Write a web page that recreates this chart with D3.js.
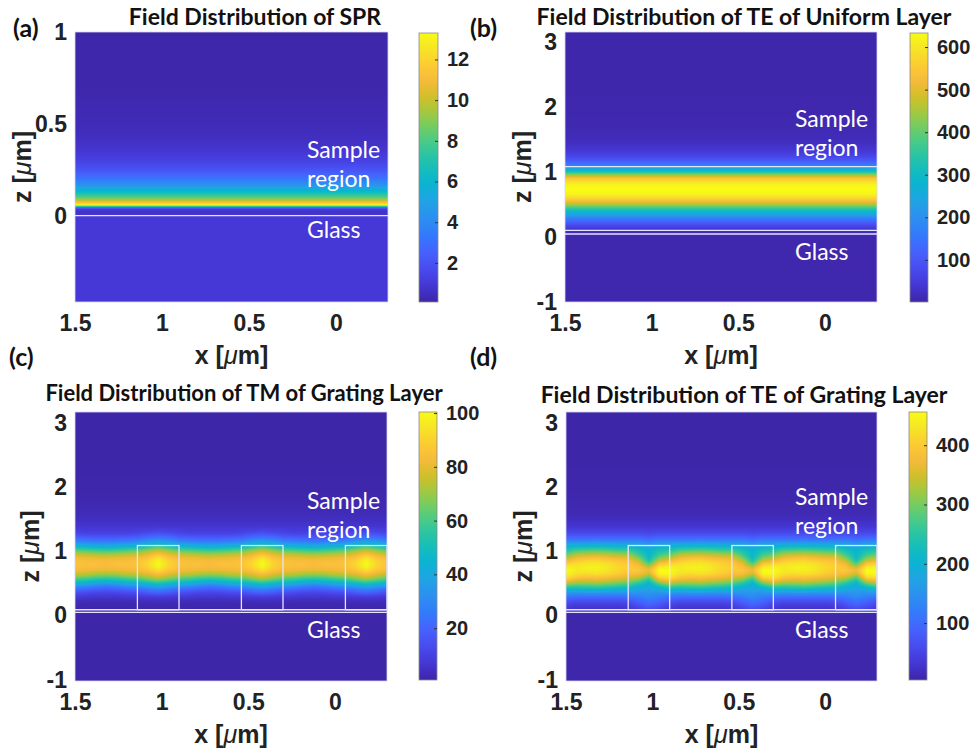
<!DOCTYPE html>
<html>
<head>
<meta charset="utf-8">
<script src="https://cdn.jsdelivr.net/npm/d3@7"></script>
<style>
  body { margin: 0; background: #fff; }
  svg { display: block; }
  .tick text { font-family: "Liberation Sans", Arial, sans-serif; font-weight: bold; fill: #222; }
  .titel { font-family: Lato, "Open Sans", sans-serif; font-weight: bold; fill: #111; }
  .oznaka { font-family: Lato, "Open Sans", sans-serif; font-weight: bold; fill: #111; }
  .os { font-family: "Liberation Sans", Arial, sans-serif; font-weight: bold; fill: #222; }
  .regija { font-family: Lato, "Open Sans", sans-serif; fill: #fff; }
</style>
</head>
<body>
<div id="okvir"></div>
<script>
// ---------- podaci (ocitano sa slike) ----------

// parula (MATLAB) - kljucne boje
const parulaRows = [1, 5, 9, 13, 17, 21, 25, 29, 33, 37, 41, 45, 49, 53, 57, 61, 64]
const parulaStops = ["#3e26a8", "#4537d5", "#484df0", "#4563fd", "#327cfc", "#2b91ef", "#20a5e3", "#08b5d0",
  "#19bfb6", "#37c897", "#64cd6f", "#9dc943", "#d1bf27", "#f8ba3d", "#fccf30", "#f5e924", "#f9fb15"]

const xTicks = [1.5, 1, 0.5, 0]

// (a) SPR - jednolik sloj, profil po z
const sprZ = [-0.47, 0, 0.01, 0.025, 0.035, 0.045, 0.052, 0.058, 0.065, 0.08, 0.1, 0.13, 0.16, 0.2, 0.25, 0.3, 0.35, 0.4, 0.5, 0.7, 1]
const sprI = [0.95, 0.95, 0.7, 0.7, 1.1, 3, 9, 13.3, 12.2, 10.2, 8.2, 6.3, 4.7, 3.2, 2.0, 1.3, 0.9, 0.6, 0.35, 0.15, 0.1]
const sprZTicks = [0, 0.5, 1]
const sprCTicks = [2, 4, 6, 8, 10, 12]

// (b) TE, jednolik sloj
const teUniZ = [-1, -0.5, 0, 0.05, 0.1, 0.15, 0.2, 0.25, 0.3, 0.35, 0.4, 0.45, 0.5, 0.55, 0.6, 0.65, 0.7, 0.75,
  0.8, 0.85, 0.9, 0.95, 1.0, 1.05, 1.1, 1.15, 1.2, 1.3, 1.4, 1.5, 1.7, 2.0, 3.15]
const teUniI = [5, 5, 6, 12, 30, 55, 90, 135, 185, 240, 300, 375, 455, 525, 580, 615, 630, 633,
  620, 590, 545, 445, 330, 250, 175, 120, 85, 48, 28, 17, 9, 5, 3]
const zTicks = [-1, 0, 1, 2, 3]
const teUniCTicks = [100, 200, 300, 400, 500, 600]

// resetka: sredista stupica, poluširina, donji/gornji rub (um)
const gratingCenters = [1.02, 0.42, -0.18]
const gratingHalf = 0.12
const gratingZ = [0.10, 0.15, 0.20, 0.25, 0.30, 0.35, 0.40, 0.45, 0.50, 0.55, 0.60, 0.65, 0.70,
  0.75, 0.80, 0.85, 0.90, 0.95, 1.00, 1.05, 1.10, 1.15, 1.20, 1.25, 1.30]

// (c) TM resetka - stupci po udaljenosti od sredista stupica (simetricno)
const tmDx = [0, 0.06, 0.12, 0.18, 0.24, 0.30]
const tmCols = [
  [1, 1.5, 3, 5, 10, 18, 27, 38, 52, 66, 77, 85, 92, 98, 100, 99, 94, 86, 78, 66, 52, 38, 27, 18, 12],
  [1, 1.5, 2.5, 5, 9, 16, 24, 35, 48, 61, 72, 80, 86, 90, 91, 90, 86, 80, 72, 60, 47, 35, 25, 17, 11],
  [1, 1.5, 2.5, 4.5, 8, 13, 20, 31, 44, 56, 67, 76, 82, 85, 86, 85, 82, 75, 66, 54, 41, 30, 21, 14, 10],
  [1, 1.5, 2.5, 4.5, 8, 12, 19, 29, 42, 54, 65, 75, 81, 84, 85, 84, 81, 74, 64, 52, 39, 28, 20, 13, 9],
  [1, 1.5, 2, 4, 7, 11, 17, 26, 38, 51, 62, 72, 80, 84, 85, 84, 80, 72, 62, 50, 38, 27, 19, 13, 9],
  [1, 1.5, 2, 4, 7, 10, 16, 24, 36, 49, 61, 71, 79, 83, 84, 83, 79, 71, 61, 49, 37, 26, 19, 13, 9],
]
const tmLowZ = [-1.02, 0, 0.05], tmLowI = [0.8, 0.8, 1]
const tmHighZ = [1.4, 1.5, 1.6, 1.8, 2.0, 2.5, 3.17], tmHighI = [6, 4, 2.8, 1.6, 1, 0.7, 0.5]
const tmCTicks = [20, 40, 60, 80, 100]

// (d) TE resetka - stupci po pomaku od sredista stupica (x - sredina)
const teDx = [-0.30, -0.24, -0.18, -0.12, -0.06, 0, 0.06, 0.12, 0.18, 0.24, 0.30]
const teBetween = [25, 35, 50, 75, 110, 155, 210, 265, 315, 360, 395, 425, 440, 445, 435, 415, 385, 345, 295, 245, 195, 145, 100, 70, 50]
const teCols = [
  teBetween,
  [25, 35, 50, 75, 110, 155, 205, 260, 310, 355, 390, 420, 437, 442, 432, 412, 380, 340, 292, 242, 192, 142, 100, 70, 50],
  [25, 35, 50, 75, 110, 150, 200, 255, 310, 360, 400, 425, 435, 435, 425, 400, 370, 330, 285, 240, 190, 140, 100, 70, 50],
  [35, 45, 60, 85, 115, 155, 205, 265, 330, 390, 430, 450, 455, 445, 415, 375, 330, 290, 255, 220, 180, 140, 100, 70, 50],
  [50, 65, 85, 105, 125, 150, 180, 225, 290, 360, 420, 450, 455, 440, 400, 345, 300, 265, 240, 215, 180, 140, 100, 70, 50],
  [60, 80, 100, 120, 140, 155, 170, 185, 205, 240, 290, 345, 370, 340, 285, 240, 215, 210, 205, 190, 160, 125, 90, 65, 48],
  [45, 60, 80, 100, 125, 150, 175, 205, 245, 295, 345, 380, 395, 390, 370, 340, 300, 265, 240, 215, 180, 140, 100, 70, 50],
  [30, 40, 55, 80, 115, 150, 190, 235, 280, 325, 360, 385, 400, 405, 400, 385, 360, 320, 280, 235, 185, 140, 100, 70, 50],
  [25, 35, 50, 75, 110, 150, 195, 245, 295, 340, 375, 400, 412, 415, 410, 395, 365, 325, 280, 235, 185, 140, 100, 70, 50],
  [25, 35, 50, 75, 110, 150, 200, 255, 305, 350, 385, 415, 430, 432, 425, 405, 375, 335, 290, 240, 190, 140, 100, 70, 50],
  teBetween,
]
const teLowZ = [-1.02, 0, 0.05], teLowI = [5, 5, 15]
const teHighZ = [1.4, 1.5, 1.6, 1.8, 2.0, 2.5, 3.17], teHighI = [28, 18, 12, 8, 6, 4, 3]
const teGrCTicks = [100, 200, 300, 400]

// ---------- polje ----------
const profileField = (zs, vals) => {
  const s = d3.scaleLinear().domain(zs).range(vals).clamp(true)
  return (x, z) => s(z)
}
const gratingField = (dxs, cols, lowZ, lowI, highZ, highI, mirror) => {
  const zs = [...lowZ, ...gratingZ, ...highZ]
  const scales = cols.map(col => d3.scaleLinear().domain(zs).range([...lowI, ...col, ...highI]).clamp(true))
  const period = gratingCenters[0] - gratingCenters[1]
  return (x, z) => {
    let d = x - gratingCenters[0]
    d -= period * Math.round(d / period)
    if (mirror) d = Math.abs(d)
    let k = d3.bisectRight(dxs, d) - 1
    k = Math.max(0, Math.min(dxs.length - 2, k))
    const t = Math.max(0, Math.min(1, (d - dxs[k]) / (dxs[k + 1] - dxs[k])))
    return scales[k](z) * (1 - t) + scales[k + 1](z) * t
  }
}

// ---------- izgled ----------
const panels = [
  { tag: "(a)", tagX: 13, tagY: 37, title: "Field Distribution of SPR", titleX: 255, titleY: 25, titleSize: 23,
    plot: { x0: 75, x1: 388, y0: 32, y1: 302 }, zDomain: [-0.47, 1], zTicks: sprZTicks,
    cb: { x: 419, w: 19, y0: 33, y1: 302 }, cDomain: [0.08, 13.3], cTicks: sprCTicks,
    field: profileField(sprZ, sprI), hLines: [0], grating: false,
    zLabX: 22, xLabY: 364, regX: 307, sampleY: 158, regionY: 187, glassY: 238 },
  { tag: "(b)", tagX: 470, tagY: 37, title: "Field Distribution of TE of Uniform Layer", titleX: 744, titleY: 25, titleSize: 23,
    plot: { x0: 565, x1: 877, y0: 32, y1: 302 }, zDomain: [-1, 3.15], zTicks: zTicks,
    cb: { x: 910, w: 18, y0: 33, y1: 302 }, cDomain: [1, 633], cTicks: teUniCTicks,
    field: profileField(teUniZ, teUniI), hLines: [0.045, 0.1, 1.08], grating: false,
    zLabX: 522, xLabY: 364, regX: 795, sampleY: 127, regionY: 156, glassY: 260 },
  { tag: "(c)", tagX: 9, tagY: 366, title: "Field Distribution of TM of Grating Layer", titleX: 244, titleY: 401, titleSize: 22,
    plot: { x0: 75, x1: 387, y0: 412, y1: 681 }, zDomain: [-1.02, 3.17], zTicks: zTicks,
    cb: { x: 419, w: 18, y0: 412, y1: 680 }, cDomain: [0.7, 100.4], cTicks: tmCTicks,
    field: gratingField(tmDx, tmCols, tmLowZ, tmLowI, tmHighZ, tmHighI, true), hLines: [0.05, 0.09], grating: true,
    zLabX: 30, xLabY: 743, regX: 307, sampleY: 509, regionY: 538, glassY: 638 },
  { tag: "(d)", tagX: 470, tagY: 366, title: "Field Distribution of TE of Grating Layer", titleX: 744, titleY: 403, titleSize: 23,
    plot: { x0: 566, x1: 877, y0: 412, y1: 681 }, zDomain: [-1.02, 3.17], zTicks: zTicks,
    cb: { x: 909, w: 18, y0: 412, y1: 680 }, cDomain: [4, 456], cTicks: teGrCTicks,
    field: gratingField(teDx, teCols, teLowZ, teLowI, teHighZ, teHighI, false), hLines: [0.05, 0.09], grating: true,
    zLabX: 523, xLabY: 743, regX: 795, sampleY: 505, regionY: 534, glassY: 638 },
]

const sirina = 971, visina = 756
const okvir = d3.select("#okvir").append("svg")
  .attr("width", sirina).attr("height", visina)
okvir.append("rect").attr("width", sirina).attr("height", visina).attr("fill", "#fff")
const defs = okvir.append("defs")

const parula = d3.scaleLinear()
  .domain(parulaRows.map(r => (r - 1) / 63))
  .range(parulaStops)
  .interpolate(d3.interpolateRgb)
  .clamp(true)
const lut = d3.range(256).map(i => d3.rgb(parula(i / 255)))

panels.forEach((p, pi) => {
  const g = okvir.append("g")
  const xScale = d3.scaleLinear().domain([1.5, -0.3]).range([p.plot.x0, p.plot.x1])
  const zScale = d3.scaleLinear().domain(p.zDomain).range([p.plot.y1, p.plot.y0])
  const cNorm = d3.scaleLinear().domain(p.cDomain).range([0, 1]).clamp(true)

  // raster polja
  const w = p.plot.x1 - p.plot.x0, h = p.plot.y1 - p.plot.y0
  const cv = document.createElement("canvas")
  cv.width = w; cv.height = h
  const ctx = cv.getContext("2d")
  const img = ctx.createImageData(w, h)
  for (let j = 0; j < h; j++) {
    const zz = zScale.invert(p.plot.y0 + j + 0.5)
    for (let i = 0; i < w; i++) {
      const xx = xScale.invert(p.plot.x0 + i + 0.5)
      const col = lut[Math.round(cNorm(p.field(xx, zz)) * 255)]
      const k = (j * w + i) * 4
      img.data[k] = col.r; img.data[k + 1] = col.g; img.data[k + 2] = col.b; img.data[k + 3] = 255
    }
  }
  ctx.putImageData(img, 0, 0)
  g.append("image")
    .attr("x", p.plot.x0).attr("y", p.plot.y0)
    .attr("width", w).attr("height", h)
    .attr("preserveAspectRatio", "none")
    .attr("href", cv.toDataURL())

  // granice slojeva
  g.selectAll(".sloj").data(p.hLines).enter().append("line")
    .attr("x1", p.plot.x0).attr("x2", p.plot.x1)
    .attr("y1", d => zScale(d)).attr("y2", d => zScale(d))
    .attr("stroke", "#e4e4ff").attr("stroke-width", 1.3)

  if (p.grating) {
    g.selectAll(".stup").data(gratingCenters).enter().append("rect")
      .attr("x", d => xScale(d + gratingHalf))
      .attr("width", d => xScale(d - gratingHalf) - xScale(d + gratingHalf))
      .attr("y", zScale(1.09))
      .attr("height", zScale(0.09) - zScale(1.09))
      .attr("fill", "none").attr("stroke", "#e4e4ff").attr("stroke-width", 1.3)
  }

  g.append("rect")
    .attr("x", p.plot.x0).attr("y", p.plot.y0).attr("width", w).attr("height", h)
    .attr("fill", "none").attr("stroke", "#d8d8f4").attr("stroke-width", 0.8)

  // osi
  const xOs = g.append("g")
    .attr("transform", `translate(0, ${p.plot.y1})`)
    .call(d3.axisBottom(xScale).tickValues(xTicks).tickFormat(d => String(d)).tickSize(0).tickPadding(13))
  xOs.select(".domain").remove()
  xOs.selectAll("text").style("font-size", "23px")

  const zOs = g.append("g")
    .attr("transform", `translate(${p.plot.x0}, 0)`)
    .call(d3.axisLeft(zScale).tickValues(p.zTicks).tickFormat(d => String(d)).tickSize(0).tickPadding(8))
  zOs.select(".domain").remove()
  zOs.selectAll("text").style("font-size", "23px")

  // oznake osi
  const xl = g.append("text").attr("class", "os")
    .attr("x", (p.plot.x0 + p.plot.x1) / 2).attr("y", p.xLabY)
    .attr("text-anchor", "middle").style("font-size", "25px")
  xl.append("tspan").text("x [")
  xl.append("tspan").text("μ").style("font-style", "italic").style("font-weight", "normal")
  xl.append("tspan").text("m]")

  const zl = g.append("text").attr("class", "os")
    .attr("transform", `translate(${p.zLabX}, ${(p.plot.y0 + p.plot.y1) / 2}) rotate(-90)`)
    .attr("dy", "0.35em")
    .attr("text-anchor", "middle").style("font-size", "25px")
  zl.append("tspan").text("z [")
  zl.append("tspan").text("μ").style("font-style", "italic").style("font-weight", "normal")
  zl.append("tspan").text("m]")

  // naslov i oznaka panela
  g.append("text").attr("class", "titel")
    .attr("x", p.titleX).attr("y", p.titleY)
    .attr("text-anchor", "middle").style("font-size", `${p.titleSize}px`)
    .text(p.title)
  g.append("text").attr("class", "oznaka")
    .attr("x", p.tagX).attr("y", p.tagY).style("font-size", "25px")
    .text(p.tag)

  // natpisi regija
  g.append("text").attr("class", "regija").attr("x", p.regX).attr("y", p.sampleY).style("font-size", "23px").text("Sample")
  g.append("text").attr("class", "regija").attr("x", p.regX).attr("y", p.regionY).style("font-size", "23px").text("region")
  g.append("text").attr("class", "regija").attr("x", p.regX).attr("y", p.glassY).style("font-size", "23px").text("Glass")

  // legenda boja
  const gradId = `legenda-gradijent-${pi}`
  const grad = defs.append("linearGradient").attr("id", gradId)
    .attr("x1", 0).attr("y1", 1).attr("x2", 0).attr("y2", 0)
  grad.selectAll("stop").data(d3.range(0, 1.0001, 1 / 32)).enter().append("stop")
    .attr("offset", d => d).attr("stop-color", d => parula(d))
  g.append("rect")
    .attr("x", p.cb.x).attr("y", p.cb.y0).attr("width", p.cb.w).attr("height", p.cb.y1 - p.cb.y0)
    .attr("fill", `url(#${gradId})`).attr("stroke", "#8a8a8a").attr("stroke-width", 0.8)

  const cScale = d3.scaleLinear().domain(p.cDomain).range([p.cb.y1, p.cb.y0])
  const cOs = g.append("g")
    .attr("transform", `translate(${p.cb.x + p.cb.w}, 0)`)
    .call(d3.axisRight(cScale).tickValues(p.cTicks).tickFormat(d => String(d)).tickSizeInner(-3).tickSizeOuter(0).tickPadding(9))
  cOs.select(".domain").remove()
  cOs.selectAll("line").attr("stroke", "#333")
  cOs.selectAll("text").style("font-size", "20px")
})
</script>
</body>
</html>
